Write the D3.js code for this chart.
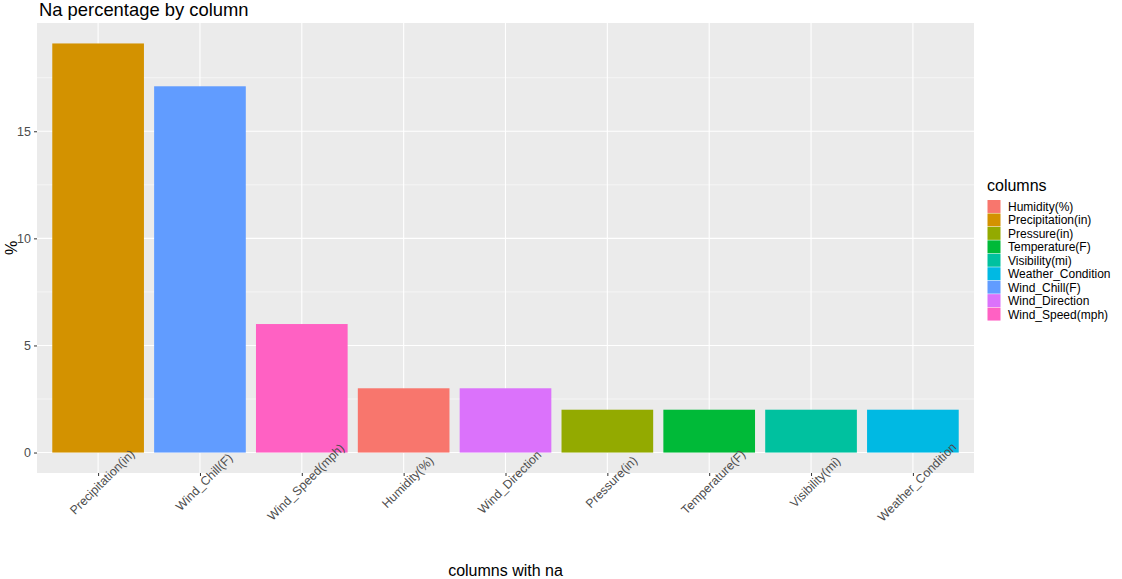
<!DOCTYPE html>
<html><head><meta charset="utf-8">
<script src="https://cdn.jsdelivr.net/npm/d3@7"></script>
<style>body{margin:0;background:#fff;} svg{display:block;font-family:"Liberation Sans",Arial,sans-serif;}</style>
</head><body>
<svg id="c" width="1122" height="579"></svg>
<script>
const categories = ["Precipitation(in)","Wind_Chill(F)","Wind_Speed(mph)","Humidity(%)","Wind_Direction","Pressure(in)","Temperature(F)","Visibility(mi)","Weather_Condition"];
const values = [19.1, 17.1, 6.0, 3.0, 3.0, 2.0, 2.0, 2.0, 2.0];
const legendOrder = ["Humidity(%)","Precipitation(in)","Pressure(in)","Temperature(F)","Visibility(mi)","Weather_Condition","Wind_Chill(F)","Wind_Direction","Wind_Speed(mph)"];
const legendColors = ["#F8766D","#D39200","#93AA00","#00BA38","#00C19F","#00B9E3","#619CFF","#DB72FB","#FF61C3"];
const yTicks = [0,5,10,15];
const yMinor = [2.5,7.5,12.5,17.5];

const svg = d3.select("#c");
const P = {l:37, r:974, t:23, b:473};
const color = d3.scaleOrdinal().domain(legendOrder).range(legendColors);
const maxV = d3.max(values);
const y = d3.scaleLinear().domain([-0.05*maxV, maxV*1.05]).range([P.b, P.t]);
const n = categories.length;
const unit = (P.r-P.l)/(n-1+1.2);
const x = d3.scalePoint().domain(categories).range([P.l+0.6*unit, P.r-0.6*unit]);

svg.append("rect").attr("x",P.l).attr("y",P.t).attr("width",P.r-P.l).attr("height",P.b-P.t).attr("fill","#EBEBEB");
const g = svg.append("g");
g.selectAll(".ymin").data(yMinor).join("line").attr("x1",P.l).attr("x2",P.r).attr("y1",d=>y(d)).attr("y2",d=>y(d)).attr("stroke","#fff").attr("stroke-width",0.55);
g.selectAll(".ymaj").data(yTicks).join("line").attr("x1",P.l).attr("x2",P.r).attr("y1",d=>y(d)).attr("y2",d=>y(d)).attr("stroke","#fff").attr("stroke-width",1.1);
g.selectAll(".xmaj").data(categories).join("line").attr("y1",P.t).attr("y2",P.b).attr("x1",d=>x(d)).attr("x2",d=>x(d)).attr("stroke","#fff").attr("stroke-width",1.1);

const bw = 0.9*unit;
svg.selectAll(".bar").data(categories).join("rect")
  .attr("x",d=>x(d)-bw/2).attr("width",bw)
  .attr("y",(d,i)=>y(values[i])).attr("height",(d,i)=>y(0)-y(values[i]))
  .attr("fill",d=>color(d));

// y axis
const ya = svg.append("g").attr("transform",`translate(${P.l},0)`)
  .call(d3.axisLeft(y).tickValues(yTicks).tickSize(3).tickPadding(3).tickFormat(d3.format("d")));
ya.select(".domain").remove();
ya.selectAll("line").attr("stroke","#333");
ya.selectAll("text").attr("fill","#4D4D4D").style("font-size","12.5px");

// x axis
const xa = svg.append("g").attr("transform",`translate(0,${P.b})`)
  .call(d3.axisBottom(x).tickSize(3).tickFormat(""));
xa.select(".domain").remove();
xa.selectAll("line").attr("stroke","#333");
svg.selectAll(".xl").data(categories).join("text")
  .attr("transform",d=>`translate(${x(d)+4},${P.b+9}) rotate(-45)`)
  .attr("text-anchor","middle").attr("dy","0.35em")
  .attr("fill","#4D4D4D").style("font-size","12.3px").text(d=>d);

// titles
svg.append("text").attr("x",P.l+2).attr("y",16).style("font-size","18.4px").attr("fill","#000").text("Na percentage by column");
svg.append("text").attr("x",(P.l+P.r)/2).attr("y",576).attr("text-anchor","middle").style("font-size","16px").attr("fill","#000").text("columns with na");
svg.append("text").attr("transform",`translate(17,${(P.t+P.b)/2}) rotate(-90)`).attr("text-anchor","middle").style("font-size","16px").attr("fill","#000").text("%");

// legend
const lg = svg.append("g").attr("transform","translate(987,0)");
lg.append("text").attr("x",0).attr("y",191).style("font-size","16px").attr("fill","#000").text("columns");
const row = 13.45;
lg.selectAll(".k").data(legendOrder).join("rect").attr("x",0.5).attr("y",(d,i)=>200+i*row).attr("width",13).attr("height",row-0.5).attr("fill",d=>color(d));
lg.selectAll(".lt").data(legendOrder).join("text").attr("x",21).attr("y",(d,i)=>200+i*row+row/2).attr("dy","0.35em").style("font-size","12px").attr("fill","#000").text(d=>d);
</script>
</body></html>
